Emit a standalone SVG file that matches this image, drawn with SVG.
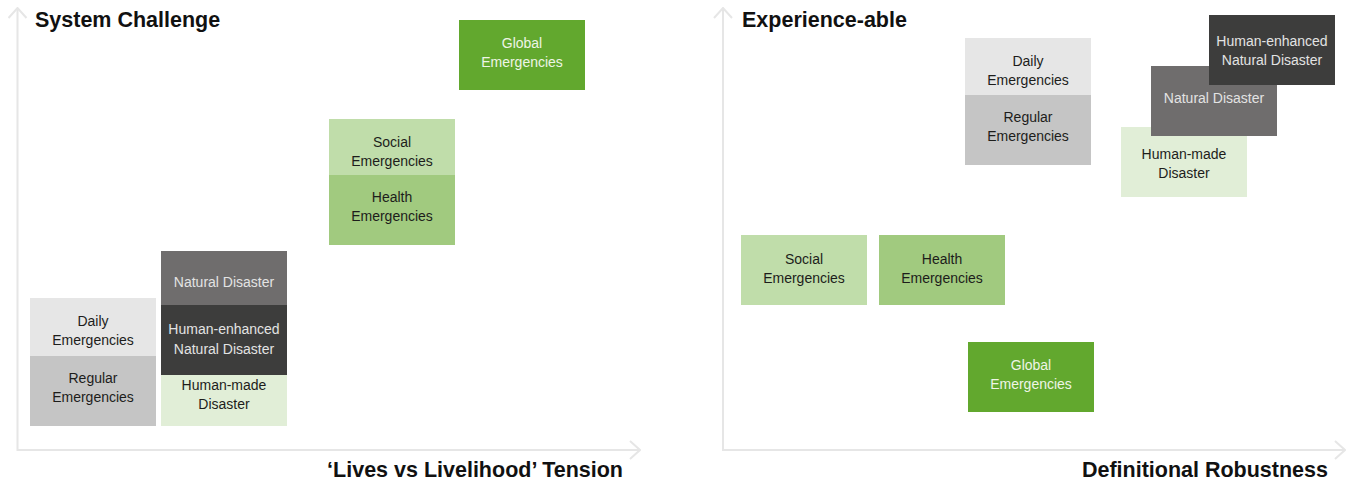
<svg xmlns="http://www.w3.org/2000/svg" width="1352" height="483" viewBox="0 0 1352 483">
<defs>
<style>
.t{font-family:"Liberation Sans",Arial,sans-serif;font-size:14px;text-anchor:middle}
.dk{fill:#1d1d1b}
.lt{fill:#e3e3e3}
.gl{fill:#eef5e6}
.title{font-family:"Liberation Sans",Arial,sans-serif;font-size:21.5px;font-weight:bold;fill:#111}
.axis{fill:none;stroke:#e6e6e6;stroke-width:2}
</style>
<marker id="chev" viewBox="0 0 12 20" refX="11" refY="10" markerWidth="12" markerHeight="20" markerUnits="userSpaceOnUse" orient="auto-start-reverse">
<path d="M1,1 L11,10 L1,19" fill="none" stroke="#e6e6e6" stroke-width="2"/>
</marker>
</defs>
<rect width="1352" height="483" fill="#ffffff"/>
<g id="connectors">
<path class="axis" d="M17.5,8 L17.5,450 L640,450" marker-start="url(#chev)" marker-end="url(#chev)"/>
<path class="axis" d="M723,8 L723,450 L1345,450" marker-start="url(#chev)" marker-end="url(#chev)"/>
</g>
<g id="titles">
<text class="title" x="35" y="27">System Challenge</text>
<text class="title" x="742" y="27">Experience-able</text>
<text class="title" x="623" y="477" text-anchor="end">‘Lives vs Livelihood’ Tension</text>
<text class="title" x="1328" y="477" text-anchor="end">Definitional Robustness</text>
</g>
<!-- Left chart -->
<g id="l-daily"><rect x="30" y="298" width="126" height="70" fill="#e6e6e6"/><text class="t dk" x="93" y="326">Daily</text><text class="t dk" x="93" y="345">Emergencies</text></g>
<g id="l-regular"><rect x="30" y="356" width="126" height="70" fill="#c5c5c5"/><text class="t dk" x="93" y="383">Regular</text><text class="t dk" x="93" y="402">Emergencies</text></g>
<g id="l-natural"><rect x="161" y="251" width="126" height="70" fill="#6f6d6d"/><text class="t lt" x="224" y="287">Natural Disaster</text></g>
<g id="l-humanmade"><rect x="161" y="356" width="126" height="70" fill="#e1eed7"/><text class="t dk" x="224" y="390">Human-made</text><text class="t dk" x="224" y="409">Disaster</text></g>
<g id="l-humanenhanced"><rect x="161" y="305" width="126" height="70" fill="#3d3d3c"/><text class="t lt" x="224" y="334">Human-enhanced</text><text class="t lt" x="224" y="354">Natural Disaster</text></g>
<g id="l-social"><rect x="329" y="119" width="126" height="70" fill="#c0ddaa"/><text class="t dk" x="392" y="147">Social</text><text class="t dk" x="392" y="166">Emergencies</text></g>
<g id="l-health"><rect x="329" y="175" width="126" height="70" fill="#a1ca7f"/><text class="t dk" x="392" y="202">Health</text><text class="t dk" x="392" y="221">Emergencies</text></g>
<g id="l-global"><rect x="459" y="20" width="126" height="70" fill="#62a82e"/><text class="t gl" x="522" y="48">Global</text><text class="t gl" x="522" y="67">Emergencies</text></g>
<!-- Right chart -->
<g id="r-daily"><rect x="965" y="38" width="126" height="70" fill="#e6e6e6"/><text class="t dk" x="1028" y="66">Daily</text><text class="t dk" x="1028" y="85">Emergencies</text></g>
<g id="r-regular"><rect x="965" y="95" width="126" height="70" fill="#c5c5c5"/><text class="t dk" x="1028" y="122">Regular</text><text class="t dk" x="1028" y="141">Emergencies</text></g>
<g id="r-humanmade"><rect x="1121" y="127" width="126" height="70" fill="#e1eed7"/><text class="t dk" x="1184" y="159">Human-made</text><text class="t dk" x="1184" y="178">Disaster</text></g>
<g id="r-natural"><rect x="1151" y="66" width="126" height="70" fill="#6f6d6d"/><text class="t lt" x="1214" y="103">Natural Disaster</text></g>
<g id="r-humanenhanced"><rect x="1209" y="15" width="126" height="70" fill="#3d3d3c"/><text class="t lt" x="1272" y="46">Human-enhanced</text><text class="t lt" x="1272" y="65">Natural Disaster</text></g>
<g id="r-social"><rect x="741" y="235" width="126" height="70" fill="#c0ddaa"/><text class="t dk" x="804" y="264">Social</text><text class="t dk" x="804" y="283">Emergencies</text></g>
<g id="r-health"><rect x="879" y="235" width="126" height="70" fill="#a1ca7f"/><text class="t dk" x="942" y="264">Health</text><text class="t dk" x="942" y="283">Emergencies</text></g>
<g id="r-global"><rect x="968" y="342" width="126" height="70" fill="#62a82e"/><text class="t gl" x="1031" y="370">Global</text><text class="t gl" x="1031" y="389">Emergencies</text></g>
</svg>
